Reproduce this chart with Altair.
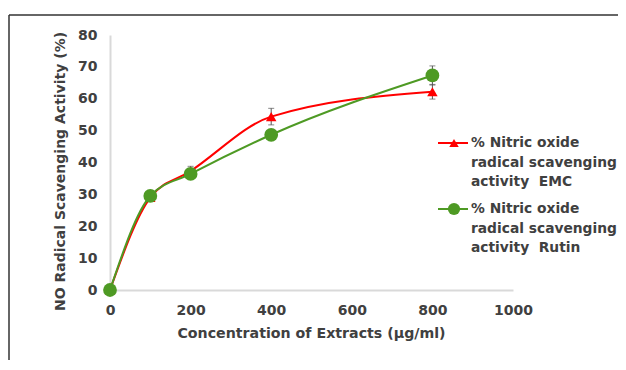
import altair as alt
import pandas as pd

conc = [0, 100, 200, 400, 800]
emc = [0, 29.0, 37.3, 54.4, 62.2]
emc_err = [0.5, 1.0, 1.5, 2.6, 2.3]
rutin = [0, 29.5, 36.4, 48.7, 67.3]
rutin_err = [0.5, 0.8, 0.8, 1.0, 3.0]
series_names = ["EMC", "Rutin"]
colors = ["#ff0000", "#4e9a24"]
shapes = ["triangle-up", "circle"]
legend_labels = [
    ["% Nitric oxide", "radical scavenging", "activity\u00a0\u00a0EMC"],
    ["% Nitric oxide", "radical scavenging", "activity\u00a0\u00a0Rutin"],
]
x_ticks = [0, 200, 400, 600, 800, 1000]
y_ticks = [0, 10, 20, 30, 40, 50, 60, 70, 80]

FONT = "DejaVu Sans"
TXT = "#404040"
X_TITLE = "Concentration of Extracts (µg/ml)"
Y_TITLE = "NO Radical Scavenging Activity (%)"

rows = []
for s, vals, errs in [("EMC", emc, emc_err), ("Rutin", rutin, rutin_err)]:
    for c, v, e in zip(conc, vals, errs):
        rows.append({"series": s, "conc": c, "val": v, "lo": v - e, "hi": v + e})
df = pd.DataFrame(rows)

xs = alt.Scale(domain=[0, 1000])
ys = alt.Scale(domain=[0, 80])

x_axis = alt.Axis(values=x_ticks, format="d", grid=False, ticks=False, domainColor="#d9d9d9", domainWidth=2,
                  labelFont=FONT, labelFontSize=14, labelColor=TXT, labelFontWeight="bold",
                  labelBaseline="middle", labelPadding=20, labelFlush=False,
                  titleFont=FONT, titleFontSize=14.2,
                  titleColor=TXT, titleFontWeight="bold", titleX=201, titleY=43,
                  titleBaseline="middle", titleAlign="center")
y_axis = alt.Axis(values=y_ticks, format="d", grid=False, ticks=False, domainColor="#d9d9d9", domainWidth=2,
                  labelFont=FONT, labelFontSize=14, labelColor=TXT, labelFontWeight="bold",
                  labelPadding=13, labelFlush=False,
                  titleFont=FONT, titleFontSize=14,
                  titleColor=TXT, titleFontWeight="bold", titleX=-50, titleY=136,
                  titleBaseline="middle", titleAlign="center", titleAngle=270)


def X(field):
    return alt.X(field, type="quantitative", scale=xs, axis=x_axis, title=X_TITLE)


def Y(field):
    return alt.Y(field, type="quantitative", scale=ys, axis=y_axis, title=Y_TITLE)


layers = []
for i, s in enumerate(series_names):
    d = df[df.series == s]
    base = alt.Chart(d)
    line = base.mark_line(color=colors[i], strokeWidth=2, interpolate="monotone").encode(x=X("conc"), y=Y("val"))
    err = base.mark_errorbar(ticks=alt.MarkConfig(size=6), color="#555555", thickness=1).encode(
        x=X("conc"), y=Y("lo"), y2="hi:Q"
    )
    pts = base.mark_point(shape=shapes[i], filled=True, opacity=1, color=colors[i],
                          size=110 if i == 0 else 190).encode(x=X("conc"), y=Y("val"))
    layers += [line, err, pts] if i == 0 else [err, line, pts]

leg_rows = []
for i, s in enumerate(series_names):
    for j, t in enumerate(legend_labels[i]):
        leg_rows.append({"series": s, "i": i, "j": j, "text": t})
leg = pd.DataFrame(leg_rows)

for i, s in enumerate(series_names):
    ly = 108 + i * 66
    sub = alt.Chart(pd.DataFrame([{"series": s}]))
    layers.append(sub.mark_rule(color=colors[i], strokeWidth=2).encode(
        x=alt.value(328), x2=alt.value(358), y=alt.value(ly)))
    layers.append(sub.mark_point(shape=shapes[i], filled=True, opacity=1, color=colors[i],
                                 size=90 if i == 0 else 150).encode(x=alt.value(344), y=alt.value(ly)))

layers.append(
    alt.Chart(leg).transform_calculate(py="108 + datum.i * 66 + datum.j * 19.5")
    .mark_text(align="left", baseline="middle", font=FONT, fontSize=13.8, fontWeight="bold", color=TXT)
    .encode(x=alt.value(361), y=alt.Y("py:Q", scale=None), text="text:N")
)

frame = alt.Chart(pd.DataFrame([{"a": 1}]))
layers.append(frame.mark_rule(color="#333333", strokeWidth=1.5).encode(
    x=alt.value(-101), x2=alt.value(520), y=alt.value(-20)))
layers.append(frame.mark_rule(color="#333333", strokeWidth=1.5).encode(
    x=alt.value(-101), y=alt.value(-20), y2=alt.value(330)))

chart = alt.layer(*layers).properties(
    width=403, height=255,
    autosize=alt.AutoSizeParams(type="none"),
    padding={"left": 102, "top": 27, "right": 105, "bottom": 70},
    background="white",
).configure_view(stroke=None)

chart.save("out.html", embed_options={"renderer": "svg", "actions": False})
